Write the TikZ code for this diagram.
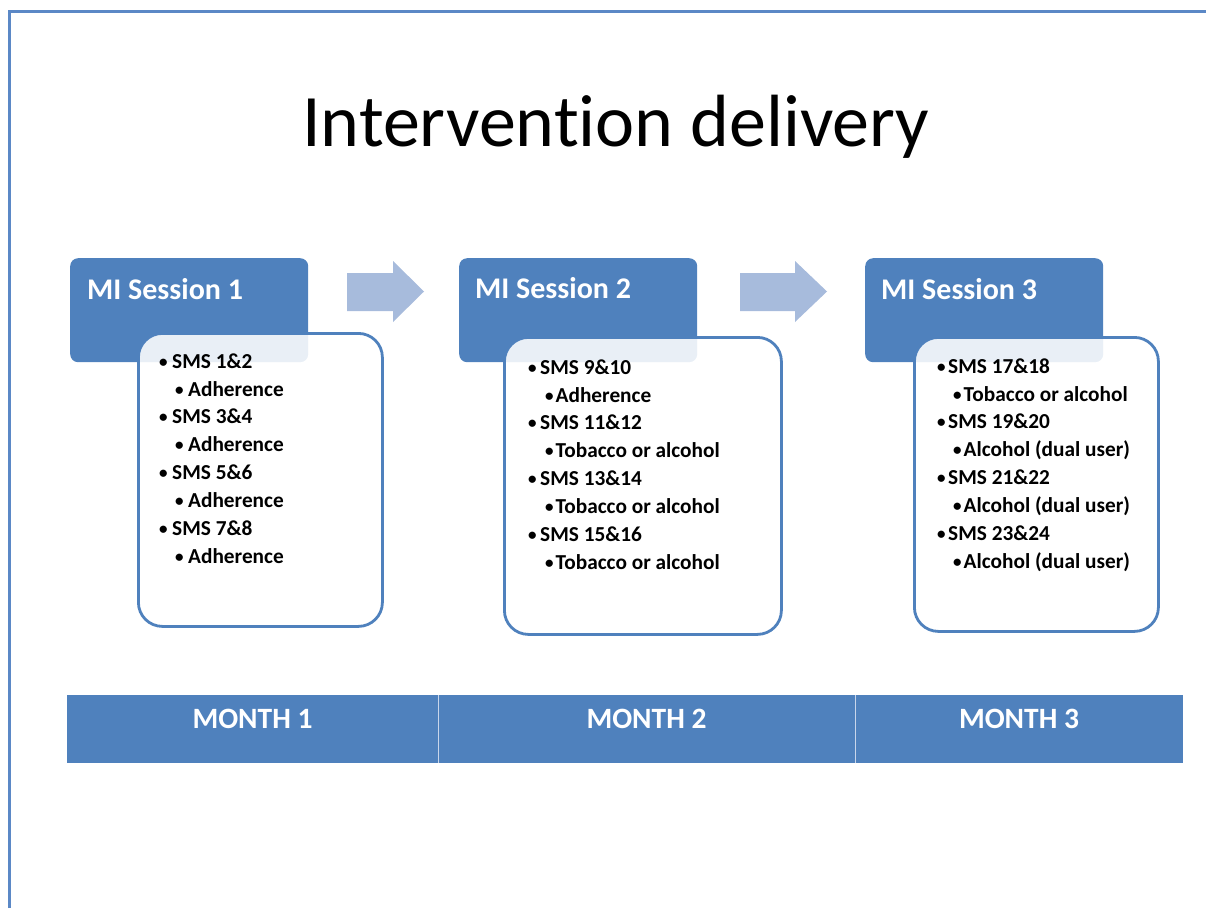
\documentclass[tikz,border=0pt]{standalone}
\usepackage{fontspec}
\setmainfont[Ligatures=NoCommon]{Carlito}
\definecolor{accent}{HTML}{4F81BD}
\definecolor{arrowc}{HTML}{A7BBDC}
\definecolor{framec}{HTML}{5B88C6}
\definecolor{divc}{HTML}{C9D6EB}
\newcommand{\bul}[1]{\makebox[#1][l]{{\fontsize{17}{17}\selectfont\raisebox{0.8pt}{•}}}}
\begin{document}
\begin{tikzpicture}[x=1pt,y=-1pt,
  hdr/.style={fill=accent, rounded corners=8pt, draw=none, inner sep=0pt, anchor=north west, minimum width=238pt, minimum height=104pt},
  hdrtext/.style={text=white, font=\bfseries\fontsize{30}{30}\selectfont, anchor=base west, inner sep=0pt},
  card/.style={draw=accent, line width=2.8pt, fill=white, fill opacity=0.88, rounded corners=24pt, inner sep=0pt, anchor=north west},
  itm/.style={font=\bfseries\fontsize{21.3}{21.3}\selectfont, anchor=base west, inner sep=0pt},
  month/.style={fill=accent, draw=none, inner sep=0pt, anchor=north west, minimum height=68pt},
  mtext/.style={text=white, font=\bfseries\fontsize{29.5}{29.5}\selectfont, anchor=base, inner sep=0pt},
  ttl/.style={font=\fontsize{74}{74}\selectfont, anchor=base west, inner sep=0pt},
  arr/.style={fill=arrowc, draw=none}
]
\useasboundingbox (0,0) rectangle (1206,908);
% slide frame
\coordinate (fb) at (9.5,908);
\coordinate (fc) at (9.5,11.5);
\coordinate (fr) at (1206,11.5);
\draw[framec, line width=3pt] (fb) -- (fc) -- (fr);

% title
\node[ttl] (title) at (302,146) {Intervention delivery};

% headers
\node[hdr] (h1) at (70,258) {};
\node[hdr] (h2) at (459,258) {};
\node[hdr] (h3) at (865,258) {};

% cards
\node[card, minimum width=244pt, minimum height=293pt] (c1) at (137,332) {};
\node[card, minimum width=277pt, minimum height=297pt] (c2) at (503,336) {};
\node[card, minimum width=244pt, minimum height=294pt] (c3) at (913,336) {};

\node[hdrtext] (h1t) at (87,299) {MI Session 1};
\node[hdrtext] (h2t) at (475,298) {MI Session 2};
\node[hdrtext] (h3t) at (881,299) {MI Session 3};

% arrows
\fill[arr] (347,273) -- (393,273) -- (393,261) -- (424,291.5) -- (393,322) -- (393,311) -- (347,311) -- cycle;
\fill[arr] (740,273) -- (795,273) -- (795,261) -- (827,291.5) -- (795,322) -- (795,311) -- (740,311) -- cycle;

% card 1 text
\foreach \t [count=\i] in {SMS 1\&2, SMS 3\&4, SMS 5\&6, SMS 7\&8} {
  \node[itm] (a\i) at (159,{368+(\i-1)*55.7}) {\bul{13pt}\t};
  \node[itm] (as\i) at (175,{396+(\i-1)*55.7}) {\bul{13pt}Adherence};
}
% card 2 text
\foreach \t/\s [count=\i] in {SMS 9\&10/Adherence, SMS 11\&12/Tobacco or alcohol, SMS 13\&14/Tobacco or alcohol, SMS 15\&16/Tobacco or alcohol} {
  \node[itm] (b\i) at (528,{374+(\i-1)*55.7}) {\bul{12pt}\t};
  \node[itm] (bs\i) at (545,{402+(\i-1)*55.7}) {\bul{10.5pt}\s};
}
% card 3 text
\foreach \t/\s [count=\i] in {SMS 17\&18/Tobacco or alcohol, SMS 19\&20/Alcohol (dual user), SMS 21\&22/Alcohol (dual user), SMS 23\&24/Alcohol (dual user)} {
  \node[itm] (d\i) at (937,{373+(\i-1)*55.7}) {\bul{11pt}\t};
  \node[itm] (ds\i) at (953,{401+(\i-1)*55.7}) {\bul{10.5pt}\s};
}

% month bar
\node[month, minimum width=371pt] (m1) at (67,695) {};
\node[month, minimum width=417pt] (m2) at (438,695) {};
\node[month, minimum width=328pt] (m3) at (855,695) {};
\draw[divc, line width=1.5pt] (m1.north east) -- (m1.south east);
\draw[divc, line width=1.5pt] (m2.north east) -- (m2.south east);
\node[mtext] (m1t) at (252.5,728) {MONTH 1};
\node[mtext] (m2t) at (646.5,728) {MONTH 2};
\node[mtext] (m3t) at (1019,728) {MONTH 3};
\end{tikzpicture}
\end{document}
